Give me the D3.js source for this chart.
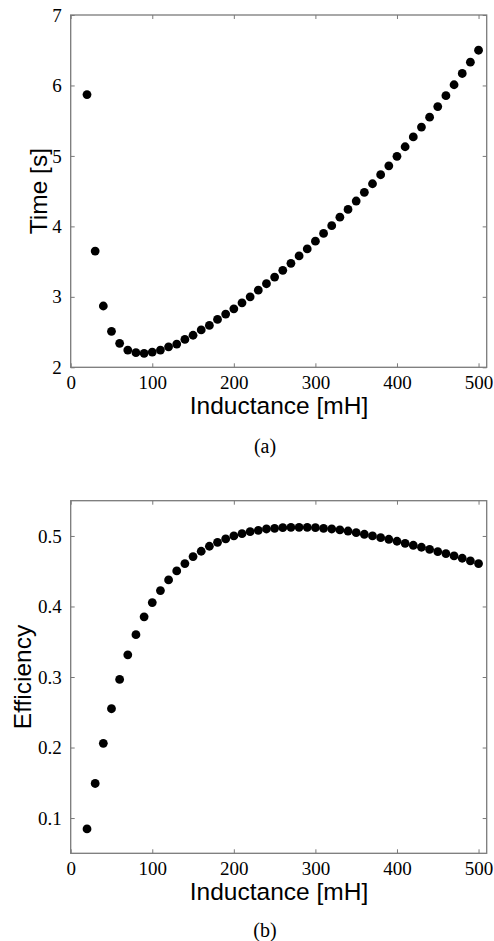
<!DOCTYPE html>
<html>
<head>
<meta charset="utf-8">
<script src="https://cdn.jsdelivr.net/npm/d3@7"></script>
<style>
  body { margin: 0; background: #fff; }
  svg { display: block; }
  .tick line { stroke: #7a7a7a; }
  .frame { fill: none; stroke: #7a7a7a; stroke-width: 1.3; }
  .title { font-family: "Liberation Sans", Arial, sans-serif; font-size: 24.5px; fill: #000; }
  .caption { font-family: "Liberation Serif", "Times New Roman", serif; font-size: 20px; fill: #000; }
</style>
</head>
<body>
<svg id="chart" width="494" height="941"></svg>
<script>
// inductance steps, mH
const inductance = [20, 30, 40, 50, 60, 70, 80, 90, 100, 110, 120, 130, 140, 150, 160, 170, 180, 190, 200,
  210, 220, 230, 240, 250, 260, 270, 280, 290, 300, 310, 320, 330, 340, 350, 360, 370, 380, 390, 400,
  410, 420, 430, 440, 450, 460, 470, 480, 490, 500];

// time [s] for each inductance
const timeValues = [5.87, 3.65, 2.87, 2.51, 2.34, 2.245, 2.207, 2.198, 2.216, 2.245, 2.29, 2.33, 2.395, 2.455,
  2.53, 2.595, 2.68, 2.755, 2.83, 2.915, 3.0, 3.095, 3.186, 3.28, 3.376, 3.475, 3.58, 3.68, 3.79, 3.9,
  4.01, 4.13, 4.24, 4.36, 4.483, 4.605, 4.733, 4.86, 4.994, 5.13, 5.27, 5.41, 5.55, 5.70, 5.855, 6.01,
  6.17, 6.33, 6.50];

// efficiency for each inductance
const efficiencyValues = [0.0845, 0.149, 0.206, 0.255, 0.2965, 0.3314, 0.360, 0.3853, 0.4056, 0.4226, 0.4377,
  0.4504, 0.4608, 0.4707, 0.4783, 0.4854, 0.491, 0.4958, 0.500, 0.5033, 0.5061, 0.508, 0.5099, 0.5108,
  0.5118, 0.5123, 0.5123, 0.5123, 0.5118, 0.5108, 0.5099, 0.5085, 0.507, 0.5047, 0.5024, 0.500, 0.4976,
  0.4953, 0.4925, 0.4896, 0.4868, 0.484, 0.4811, 0.4778, 0.475, 0.4717, 0.4684, 0.4646, 0.4608];

const xTicks = [0, 100, 200, 300, 400, 500];
const timeTicks = [2, 3, 4, 5, 6, 7];
const effTicks = [0.1, 0.2, 0.3, 0.4, 0.5];

const svg = d3.select("#chart");
const left = 70.7, right = 486.7;
const serif = "'Liberation Serif', 'Times New Roman', serif";

function panel(opts) {
  const x = d3.scaleLinear().domain([0, 510]).range([left, right]);
  const y = d3.scaleLinear().domain(opts.yDomain).range([opts.bottom, opts.top]);
  const g = svg.append("g");

  // bottom axis with labels, ticks pointing inward
  g.append("g")
    .attr("transform", "translate(0," + opts.bottom + ")")
    .call(d3.axisBottom(x).tickValues(xTicks).tickSizeInner(-4).tickSizeOuter(0).tickPadding(8)
      .tickFormat(d3.format("d")))
    .attr("font-family", serif).attr("font-size", 19)
    .call(a => a.select(".domain").remove())
    .selectAll("text").attr("dy", "0.71em").attr("fill", "#000");

  // top ticks only
  g.append("g")
    .attr("transform", "translate(0," + opts.top + ")")
    .call(d3.axisTop(x).tickValues(xTicks).tickSizeInner(-4).tickSizeOuter(0).tickFormat(""))
    .call(a => a.select(".domain").remove());

  g.append("g")
    .attr("transform", "translate(" + left + ",0)")
    .call(d3.axisLeft(y).tickValues(opts.yTicks).tickSizeInner(-4).tickSizeOuter(0).tickPadding(9)
      .tickFormat(opts.fmt))
    .attr("font-family", serif).attr("font-size", 19)
    .call(a => a.select(".domain").remove())
    .selectAll("text").attr("fill", "#000");

  g.append("g")
    .attr("transform", "translate(" + right + ",0)")
    .call(d3.axisRight(y).tickValues(opts.yTicks).tickSizeInner(-4).tickSizeOuter(0).tickFormat(""))
    .call(a => a.select(".domain").remove());

  g.append("rect").attr("class", "frame")
    .attr("x", left).attr("y", opts.top)
    .attr("width", right - left).attr("height", opts.bottom - opts.top);

  g.selectAll("circle.pt")
    .data(inductance.map((d, i) => [d, opts.values[i]]))
    .enter().append("circle")
    .attr("class", "pt")
    .attr("cx", d => x(d[0]))
    .attr("cy", d => y(d[1]))
    .attr("r", 4.4)
    .attr("fill", "#000");

  g.append("text").attr("class", "title")
    .attr("x", 279).attr("y", opts.bottom + 46.5)
    .attr("text-anchor", "middle")
    .text("Inductance [mH]");

  g.append("text").attr("class", "title")
    .attr("transform", "translate(" + opts.yLabelX + "," + (opts.top + opts.bottom) / 2 + ") rotate(-90)")
    .attr("text-anchor", "middle")
    .text(opts.yLabel);

  g.append("text").attr("class", "caption")
    .attr("x", 265).attr("y", opts.captionY)
    .attr("text-anchor", "middle")
    .text(opts.caption);
}

panel({
  top: 15, bottom: 367.3, yDomain: [2, 7], yTicks: timeTicks, fmt: d3.format("d"),
  values: timeValues, yLabel: "Time [s]", yLabelX: 46.5, caption: "(a)", captionY: 452.7
});

panel({
  top: 500.7, bottom: 853.3, yDomain: [0.05, 0.55], yTicks: effTicks, fmt: d3.format(".1f"),
  values: efficiencyValues, yLabel: "Efficiency", yLabelX: 31, caption: "(b)", captionY: 937
});
</script>
</body>
</html>
